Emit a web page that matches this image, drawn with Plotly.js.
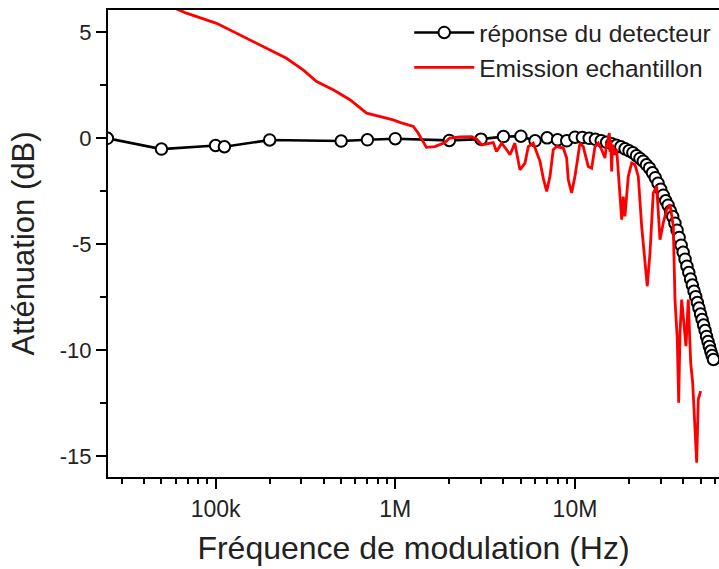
<!DOCTYPE html>
<html>
<head>
<meta charset="utf-8">
<script src="https://cdn.plot.ly/plotly-3.0.1.min.js"></script>
<style>html,body{margin:0;padding:0;background:#fff;overflow:hidden;}#chart{width:719px;height:569px;}</style>
</head>
<body>
<div id="chart"></div>
<script>
// Détecteur response (Hz, dB)
const detFreq = [25e3, 50e3, 100e3, 112e3, 200e3, 500e3, 700e3, 1e6, 2e6, 3e6, 4e6, 5e6, 6e6, 7e6, 8e6, 9e6, 10e6,
  11e6, 12e6, 13e6, 14e6, 15e6, 16e6, 17e6, 18e6, 19e6, 20e6, 21e6, 22e6, 23e6, 24e6, 25e6, 26e6, 27e6, 28e6, 29e6, 30e6,
  31e6, 32e6, 33e6, 34e6, 35e6, 36e6, 37e6, 38e6, 39e6, 40e6, 41e6, 42e6, 43e6, 44e6, 45e6, 46e6, 47e6, 48e6, 49e6, 50e6,
  51e6, 52e6, 53e6, 54e6, 55e6, 56e6, 57e6, 58e6, 59e6];
const detDb = [0.0, -0.51, -0.34, -0.40, -0.08, -0.13, -0.07, -0.02, -0.10, -0.04, 0.08, 0.10, -0.12, 0.02, -0.07, -0.12, 0.05,
  0.04, 0.0, -0.05, -0.12, -0.19, -0.26, -0.33, -0.40, -0.50, -0.59, -0.68, -0.82, -0.95, -1.08, -1.25, -1.41, -1.63, -1.86, -2.12, -2.41,
  -2.69, -2.95, -3.16, -3.44, -3.70, -4.01, -4.34, -4.69, -5.05, -5.38, -5.71, -6.04, -6.34, -6.65, -6.93, -7.22, -7.48, -7.76, -8.02, -8.30,
  -8.56, -8.82, -9.08, -9.36, -9.60, -9.83, -10.05, -10.26, -10.45];

// Sample emission (Hz, dB)
const emFreq = [52.2e3, 68.9e3, 101.3e3, 125e3, 192e3, 248e3, 307e3, 365e3, 451e3, 559e3, 693e3, 974e3, 1.06e6, 1.26e6, 1.34e6,
  1.49e6, 1.66e6, 1.89e6, 2.01e6, 2.29e6, 2.66e6, 2.84e6, 3.03e6, 3.29e6, 3.51e6, 3.66e6, 3.91e6, 4.17e6, 4.35e6, 4.63e6,
  4.94e6, 5.27e6, 5.50e6, 5.86e6, 6.39e6, 6.66e6, 6.96e6, 7.26e6, 7.57e6, 7.91e6, 8.61e6, 8.99e6, 9.18e6, 9.58e6, 10.0e6,
  10.66e6, 11.12e6, 11.86e6, 12.39e6, 12.92e6, 13.48e6, 14.08e6, 14.69e6, 15.02e6, 15.17e6, 15.33e6, 15.53e6, 15.66e6, 15.80e6,
  16.00e6, 16.17e6, 16.34e6, 16.59e6, 17.07e6, 17.81e6, 18.2e6, 18.57e6, 18.98e6, 19.80e6, 20.68e6, 21.58e6, 22.51e6, 23.51e6,
  24.52e6, 25.26e6, 26.15e6, 27.28e6, 28.5e6, 29.09e6, 29.73e6, 31.0e6, 32.39e6, 33.8e6, 35.26e6, 36.03e6, 37.11e6, 37.78e6,
  38.42e6, 39.26e6, 40.43e6, 41.48e6, 42.72e6, 44.06e6, 45.2e6, 46.56e6, 47.58e6, 48.57e6, 50.09e6];
const emDb = [6.34, 5.91, 5.43, 5.04, 4.25, 3.78, 3.23, 2.68, 2.29, 1.82, 1.19, 0.87, 0.75, 0.56, 0.25,
  -0.43, -0.39, -0.20, 0.01, 0.06, 0.08, -0.04, -0.31, -0.23, -0.20, -0.62, -0.23, -0.54, -0.78, -0.23,
  -1.49, -1.17, -0.39, -0.23, -1.09, -1.88, -2.51, -1.80, -0.54, -0.39, -0.46, -0.93, -1.96, -2.58, -1.80,
  -0.23, -0.39, -1.33, -1.41, -0.39, -0.23, -0.54, -0.93, -0.23, -0.45, 0.02, 0.25, -0.64, -0.07,
  -1.57, -0.31, -0.39, -0.78, -0.54, -2.90, -3.84, -2.75, -3.69, -1.80, -1.17, -1.25, -1.80, -4.16,
  -5.89, -6.99, -5.42, -2.58, -2.27, -3.37, -4.79, -4.0, -3.37, -3.14, -4.16, -7.62, -9.50, -12.49,
  -9.19, -7.62, -8.72, -9.82, -7.62, -10.60, -11.55, -13.91, -15.32, -12.33, -11.94];

const seriesNames = ["réponse du detecteur", "Emission echantillon"];
const xTickVals = [1e5, 1e6, 1e7];
const xTickText = ["100k", "1M", "10M"];
const xMinorVals = [3e4, 4e4, 5e4, 6e4, 7e4, 8e4, 9e4, 2e5, 3e5, 4e5, 5e5, 6e5, 7e5, 8e5, 9e5,
  2e6, 3e6, 4e6, 5e6, 6e6, 7e6, 8e6, 9e6, 2e7, 3e7, 4e7, 5e7, 6e7];
const yTickVals = [5, 0, -5, -10, -15];
const yTickText = ["5", "0", "-5", "-10", "-15"];
const yMinorVals = [2.5, -2.5, -7.5, -12.5];

const FONT = "Liberation Sans, Arial, sans-serif";

const traces = [
  {
    x: detFreq, y: detDb, name: seriesNames[0], type: "scatter", mode: "lines+markers",
    line: {color: "#000", width: 2.6},
    marker: {symbol: "circle", size: 11.5, color: "#fff", line: {color: "#000", width: 2}}
  },
  {
    x: emFreq, y: emDb, name: seriesNames[1], type: "scatter", mode: "lines",
    line: {color: "#ff0000", width: 2.8}
  }
];

const layout = {
  width: 719, height: 569,
  margin: {l: 108, r: 0, t: 10, b: 91.5},
  paper_bgcolor: "#fff", plot_bgcolor: "#fff",
  font: {family: FONT, color: "#000"},
  showlegend: true,
  legend: {
    x: 0.493, y: 1.0, xanchor: "left", yanchor: "top",
    itemwidth: 60,
    bgcolor: "rgba(0,0,0,0)", borderwidth: 0,
    font: {family: FONT, size: 24.5, color: "#222"}
  },
  xaxis: {
    type: "log",
    range: [Math.log10(25200), 7.8016],
    showgrid: false, zeroline: false,
    showline: true, linecolor: "#000", linewidth: 2, mirror: true,
    ticks: "outside", ticklen: 10, tickwidth: 2, tickcolor: "#000",
    tickmode: "array", tickvals: xTickVals, ticktext: xTickText,
    tickfont: {family: FONT, size: 23, color: "#222"},
    minor: {tickmode: "array", tickvals: xMinorVals, ticks: "outside", ticklen: 5, tickwidth: 2, tickcolor: "#000", showgrid: false},
    title: {text: "Fréquence de modulation (Hz)", font: {family: FONT, size: 32, color: "#222"}, standoff: 16},
    automargin: false
  },
  yaxis: {
    range: [-16.0, 6.06],
    showgrid: false, zeroline: false,
    showline: true, linecolor: "#000", linewidth: 2, mirror: false,
    ticks: "outside", ticklen: 10, tickwidth: 2, tickcolor: "#000",
    tickmode: "array", tickvals: yTickVals, ticktext: yTickText,
    tickfont: {family: FONT, size: 22, color: "#222"},
    minor: {tickmode: "array", tickvals: yMinorVals, ticks: "outside", ticklen: 6, tickwidth: 2, tickcolor: "#000", showgrid: false},
    title: {text: "Atténuation (dB)", font: {family: FONT, size: 31, color: "#222"}, standoff: 16},
    automargin: false
  }
};

Plotly.newPlot("chart", traces, layout, {staticPlot: true, displayModeBar: false});
</script>
</body>
</html>
